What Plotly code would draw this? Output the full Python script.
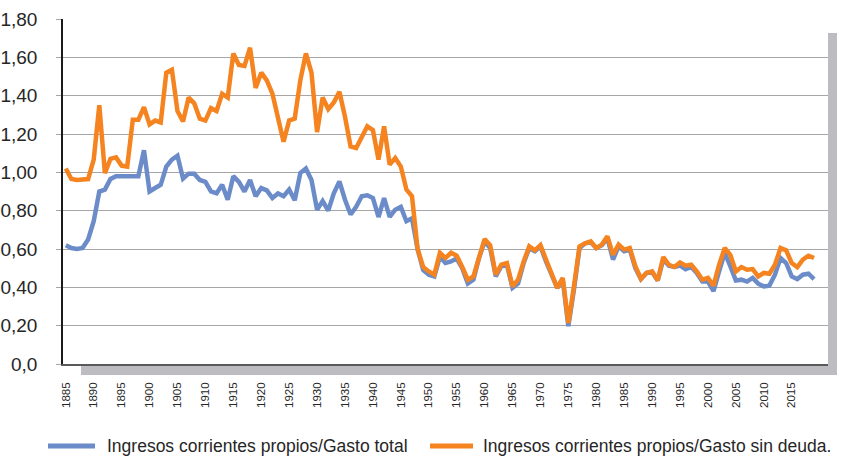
import plotly.graph_objects as go

years = list(range(1885, 2020))

gasto_total = [
    0.62, 0.605, 0.60, 0.605, 0.65, 0.745, 0.90, 0.91, 0.965, 0.98,
    0.98, 0.98, 0.98, 0.98, 1.115, 0.90, 0.918, 0.935, 1.03, 1.066,
    1.087, 0.967, 0.993, 0.993, 0.96, 0.95, 0.90, 0.89, 0.935, 0.857,
    0.98, 0.95, 0.90, 0.96, 0.875, 0.918, 0.906, 0.866, 0.89, 0.875,
    0.91, 0.854, 0.996, 1.02, 0.96, 0.805, 0.85, 0.80, 0.89, 0.953,
    0.857, 0.78, 0.82, 0.875, 0.88, 0.866, 0.767, 0.866, 0.767, 0.805,
    0.82, 0.745, 0.76, 0.60, 0.49, 0.466, 0.457, 0.56, 0.527, 0.535,
    0.55, 0.50, 0.42, 0.44, 0.553, 0.64, 0.605, 0.457, 0.51, 0.518,
    0.397, 0.42, 0.527, 0.605, 0.588, 0.614, 0.535, 0.466, 0.397, 0.44,
    0.197, 0.388, 0.605, 0.63, 0.635, 0.605, 0.62, 0.657, 0.545, 0.614,
    0.588, 0.597, 0.50, 0.443, 0.475, 0.48, 0.436, 0.545, 0.513, 0.506,
    0.513, 0.495, 0.506, 0.475, 0.43, 0.43, 0.38, 0.483, 0.58, 0.51,
    0.436, 0.44, 0.43, 0.449, 0.419, 0.405, 0.409, 0.466, 0.553, 0.527,
    0.457, 0.443, 0.466, 0.471, 0.443,
]

gasto_sin_deuda = [
    1.02, 0.965, 0.96, 0.96, 0.965, 1.066, 1.35, 0.996, 1.07, 1.078,
    1.035, 1.03, 1.275, 1.275, 1.34, 1.25, 1.27, 1.26, 1.52, 1.535,
    1.32, 1.265, 1.39, 1.36, 1.28, 1.27, 1.335, 1.32, 1.41, 1.39,
    1.62, 1.56, 1.555, 1.65, 1.44, 1.52, 1.48, 1.41, 1.28, 1.16,
    1.27, 1.28, 1.48, 1.62, 1.52, 1.21, 1.39, 1.33, 1.365, 1.42,
    1.29, 1.135, 1.127, 1.19, 1.24, 1.22, 1.066, 1.24, 1.04, 1.075,
    1.03, 0.91, 0.875, 0.60, 0.506, 0.483, 0.466, 0.58, 0.553, 0.58,
    0.565, 0.506, 0.44, 0.457, 0.56, 0.652, 0.62, 0.466, 0.518, 0.527,
    0.405, 0.44, 0.535, 0.614, 0.593, 0.62, 0.545, 0.475, 0.397, 0.449,
    0.214, 0.405, 0.614, 0.63, 0.64, 0.605, 0.623, 0.666, 0.57, 0.623,
    0.597, 0.605, 0.51, 0.445, 0.475, 0.483, 0.436, 0.558, 0.518, 0.506,
    0.53, 0.513, 0.518, 0.483, 0.44, 0.449, 0.409, 0.518, 0.605, 0.57,
    0.483, 0.506, 0.492, 0.495, 0.457, 0.475, 0.471, 0.518, 0.605, 0.593,
    0.527, 0.506, 0.545, 0.565, 0.553,
]

series_names = ["Ingresos corrientes propios/Gasto total",
                "Ingresos corrientes propios/Gasto sin deuda."]
series_colors = ["#6B8CC9", "#F58420"]

x_tick_years = list(range(1885, 2020, 5))
x_tick_labels = [str(y) for y in x_tick_years]
y_tick_vals = [0, 0.2, 0.4, 0.6, 0.8, 1.0, 1.2, 1.4, 1.6, 1.8]
y_tick_labels = ["0,0", "0,20", "0,40", "0,60", "0,80", "1,00", "1,20", "1,40", "1,60", "1,80"]

FONT = "Liberation Sans, Arial, sans-serif"
TXT = "#262626"

fig = go.Figure()
for vals, name, col in zip([gasto_total, gasto_sin_deuda], series_names, series_colors):
    fig.add_trace(go.Scatter(
        x=years, y=vals, mode="lines", name=name,
        line=dict(color=col, width=4.5), showlegend=False,
    ))

W, H = 843, 457
L, R, T, B = 63, 15, 19, 93
pw = W - L - R
ph = H - T - B

def px_x(p):
    return (p - L) / pw

def px_y(p):
    return (H - B - p) / ph

shadow = "#BDBDC1"
fig.add_shape(type="rect", xref="paper", yref="paper",
              x0=1.0, x1=px_x(837), y0=px_y(375), y1=px_y(33),
              fillcolor=shadow, line=dict(width=0), layer="below")
fig.add_shape(type="rect", xref="paper", yref="paper",
              x0=px_x(81), x1=px_x(837), y0=px_y(375), y1=px_y(365),
              fillcolor=shadow, line=dict(width=0), layer="below")

# legend (drawn manually for exact placement)
legend_items = [(48, 95, 105), (430, 473, 481)]
for (lx0, lx1, tx), name, col in zip(legend_items, series_names, series_colors):
    fig.add_shape(type="line", xref="paper", yref="paper",
                  x0=px_x(lx0), x1=px_x(lx1), y0=px_y(446), y1=px_y(446),
                  line=dict(color=col, width=5))
    fig.add_annotation(xref="paper", yref="paper", x=px_x(tx), y=px_y(446),
                       xanchor="left", yanchor="middle", showarrow=False,
                       text=name, font=dict(size=17.5, family=FONT, color=TXT))

fig.update_layout(
    width=W, height=H,
    margin=dict(l=L, r=R, t=T, b=B),
    paper_bgcolor="white", plot_bgcolor="white",
    font=dict(family=FONT, color=TXT),
    showlegend=False,
    xaxis=dict(range=[1884.5, 2021.5], tickmode="array",
               tickvals=x_tick_years, ticktext=x_tick_labels,
               tickangle=-90, tickfont=dict(size=11.5, family=FONT, color=TXT),
               showgrid=False, zeroline=False, automargin=False,
               showline=True, linecolor="#595959", linewidth=1.5,
               ticks="", ticklabelstandoff=12),
    yaxis=dict(range=[0, 1.8], tickmode="array",
               tickvals=y_tick_vals, ticktext=y_tick_labels,
               tickfont=dict(size=19, family=FONT, color=TXT),
               showgrid=True, gridcolor="#A6A6A6", gridwidth=1.3,
               zeroline=False, showline=True, linecolor="#1a1a1a", linewidth=1.5,
               ticks="outside", ticklen=5, tickcolor="#A6A6A6", tickwidth=1.3,
               ticklabelstandoff=15, automargin=False),
)

fig.write_html("out.html", config={"displayModeBar": False},
               post_script="document.body.style.margin='0';document.body.style.overflow='hidden';")
